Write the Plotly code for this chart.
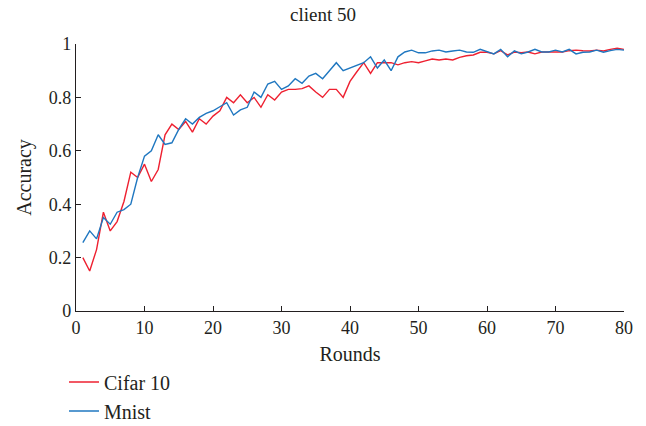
import plotly.graph_objects as go

rounds = list(range(1, 81))

cifar10 = [0.20, 0.15, 0.23, 0.37, 0.30, 0.335, 0.41, 0.52, 0.50, 0.55,
           0.485, 0.53, 0.66, 0.70, 0.68, 0.71, 0.67, 0.72, 0.70, 0.73,
           0.75, 0.80, 0.78, 0.81, 0.78, 0.80, 0.763, 0.81, 0.79, 0.82,
           0.83, 0.83, 0.833, 0.843, 0.82, 0.80, 0.83, 0.83, 0.80, 0.86,
           0.896, 0.93, 0.89, 0.93, 0.93, 0.93, 0.922, 0.93, 0.934, 0.93,
           0.937, 0.944, 0.94, 0.944, 0.94, 0.95, 0.956, 0.959, 0.969, 0.969,
           0.963, 0.975, 0.959, 0.97, 0.967, 0.97, 0.963, 0.97, 0.97, 0.969,
           0.97, 0.975, 0.977, 0.975, 0.974, 0.977, 0.974, 0.98, 0.984, 0.98]

mnist = [0.256, 0.30, 0.27, 0.35, 0.325, 0.37, 0.38, 0.40, 0.50, 0.58,
         0.60, 0.66, 0.624, 0.63, 0.68, 0.72, 0.70, 0.725, 0.74, 0.75,
         0.765, 0.78, 0.734, 0.753, 0.763, 0.82, 0.80, 0.85, 0.86, 0.83,
         0.843, 0.87, 0.853, 0.88, 0.89, 0.87, 0.90, 0.93, 0.90, 0.91,
         0.922, 0.93, 0.952, 0.91, 0.94, 0.90, 0.952, 0.97, 0.977, 0.967,
         0.967, 0.974, 0.977, 0.97, 0.974, 0.977, 0.97, 0.969, 0.98, 0.97,
         0.963, 0.98, 0.952, 0.974, 0.963, 0.97, 0.98, 0.97, 0.97, 0.977,
         0.97, 0.98, 0.963, 0.969, 0.97, 0.977, 0.969, 0.975, 0.98, 0.977]

x_ticks = [0, 10, 20, 30, 40, 50, 60, 70, 80]
y_ticks = [0, 0.2, 0.4, 0.6, 0.8, 1]
y_tick_labels = ["0", "0.2", "0.4", "0.6", "0.8", "1"]

FONT = "Liberation Serif"
TXT = "#231f20"

fig = go.Figure()
fig.add_trace(go.Scatter(x=rounds, y=cifar10, mode="lines", name="Cifar 10",
                         line=dict(color="#ee2030", width=1.4)))
fig.add_trace(go.Scatter(x=rounds, y=mnist, mode="lines", name="Mnist",
                         line=dict(color="#1f77c0", width=1.4)))

axis_common = dict(showgrid=False, zeroline=False, showline=True, linecolor=TXT,
                   linewidth=1.3, ticks="inside", ticklen=5, tickcolor=TXT,
                   tickfont=dict(family=FONT, size=18, color=TXT),
                   mirror=False, automargin=False)

fig.update_layout(
    width=646, height=426,
    margin=dict(l=76, r=22, t=44, b=115, autoexpand=False),
    paper_bgcolor="white", plot_bgcolor="white",
    title=dict(text="client 50", x=0.5, xanchor="center", xref="container",
               y=1 - 14 / 426, yref="container", yanchor="middle",
               font=dict(family=FONT, size=19, color=TXT)),
    xaxis=dict(range=[0, 80], tickvals=x_ticks,
               title=dict(text="Rounds", standoff=10,
                          font=dict(family=FONT, size=20, color=TXT)), **axis_common),
    yaxis=dict(range=[0, 1], tickvals=y_ticks, ticktext=y_tick_labels,
               title=dict(text="Accuracy", standoff=11,
                          font=dict(family=FONT, size=20, color=TXT)), **axis_common),
    legend=dict(x=-12 / 548, xanchor="left", y=-0.193, yanchor="top", orientation="v",
                font=dict(family=FONT, size=20, color=TXT), tracegroupgap=0,
                itemwidth=30, bgcolor="rgba(0,0,0,0)"),
    showlegend=True,
)

fig.write_html("out.html", config={"displayModeBar": False},
               post_script="document.body.style.margin='0';document.body.style.padding='0';")
